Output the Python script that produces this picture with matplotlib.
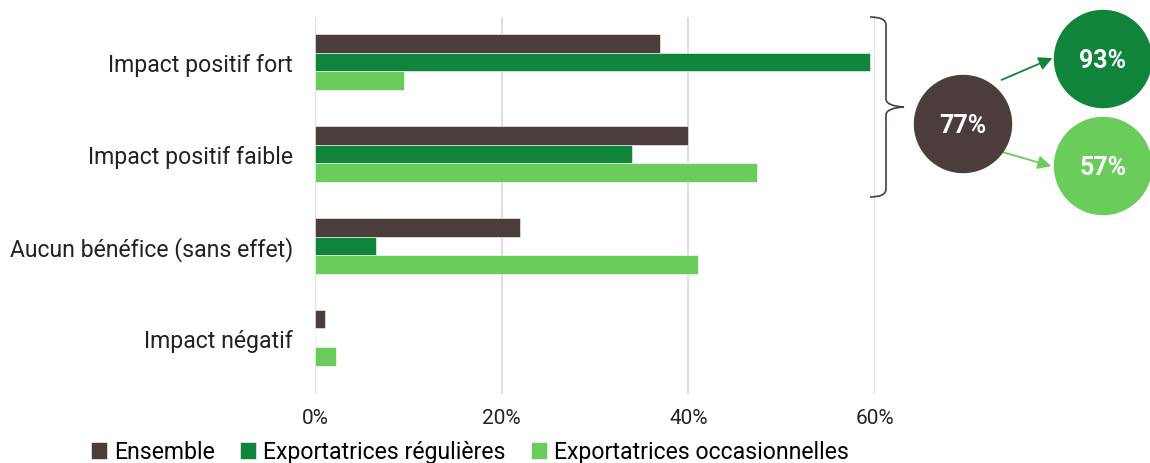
import matplotlib.pyplot as plt
import numpy as np
from matplotlib.patches import Circle, FancyArrowPatch, PathPatch
from matplotlib.path import Path

categories = ["Impact positif fort", "Impact positif faible",
              "Aucun bénéfice (sans effet)", "Impact négatif"]
series = ["Ensemble", "Exportatrices régulières", "Exportatrices occasionnelles"]
ensemble = [37.0, 40.0, 22.0, 1.1]
regulieres = [59.5, 34.0, 6.5, 0.0]
occasionnelles = [9.5, 47.4, 41.0, 2.2]
totals = [77, 93, 57]
xticks = [0, 20, 40, 60]

colors = ["#4B3D3C", "#10843B", "#6ACD5B"]

plt.rcParams["font.family"] = ["Roboto", "DejaVu Sans"]

fig = plt.figure(figsize=(11.5, 4.64), dpi=100)
W, H = 1150, 464
ax = fig.add_axes([315 / W, 1 - 395 / H, (875 - 315) / W, (395 - 18) / H])

y = np.arange(len(categories))
h = 0.205
for i, (vals, c, lab) in enumerate(zip([ensemble, regulieres, occasionnelles], colors, series)):
    ax.barh(y + (i - 1) * h, vals, height=h, color=c, label=lab,
            edgecolor="white", linewidth=0.4, zorder=3)

ax.set_xlim(0, 60)
ax.set_ylim(3.61, -0.49)
ax.set_xticks(xticks)
ax.set_xticklabels([f"{t}%" for t in xticks], fontsize=15, color="#222222")
ax.set_yticks(y)
ax.set_yticklabels(categories, fontsize=16.6, color="#222222")
ax.tick_params(length=0, pad=16, axis="y")
ax.tick_params(length=0, pad=10, axis="x")
ax.grid(axis="x", color="#D9D9D9", linewidth=1.2, zorder=0)
for s in ax.spines.values():
    s.set_visible(False)

# overlay in pixel coords for brace / circles
ov = fig.add_axes([0, 0, 1, 1], zorder=5)
ov.set_xlim(0, W)
ov.set_ylim(H, 0)
ov.axis("off")

verts = [(870, 18), (886, 18), (886, 26), (886, 26),
         (886, 100), (886, 100), (886, 107), (904, 108),
         (886, 109), (886, 116), (886, 116),
         (886, 190), (886, 190), (886, 198), (870, 198)]
codes = [Path.MOVETO, Path.CURVE3, Path.CURVE3, Path.LINETO,
         Path.LINETO, Path.LINETO, Path.CURVE3, Path.CURVE3,
         Path.CURVE3, Path.CURVE3, Path.LINETO,
         Path.LINETO, Path.LINETO, Path.CURVE3, Path.CURVE3]
ov.add_patch(PathPatch(Path(verts, codes), fill=False, edgecolor="#4B3D3C", linewidth=1.2))

circles = [((963, 125), colors[0]), ((1103, 60), colors[1]), ((1103, 167), colors[2])]
for (cx, cy), c in circles:
    ov.add_patch(Circle((cx, cy), 48.5, color=c, zorder=3))
for ((cx, cy), _), t in zip(circles, totals):
    ov.text(cx, cy + 1, f"{t}%", color="white", fontsize=18, fontweight="bold",
            ha="center", va="center", zorder=4)

ov.add_patch(FancyArrowPatch((999, 82), (1055, 58), arrowstyle="-|>,head_length=8,head_width=4",
                             color=colors[1], linewidth=1.3, zorder=2))
ov.add_patch(FancyArrowPatch((999, 152), (1054, 168), arrowstyle="-|>,head_length=8,head_width=4",
                             color=colors[2], linewidth=1.3, zorder=2))

handles, labels = ax.get_legend_handles_labels()
fig.legend(handles, labels, loc="center", bbox_to_anchor=(470 / W, 1 - 453 / H), ncol=3,
           frameon=False, handlelength=0.7, handleheight=0.7, handletextpad=0.3,
           columnspacing=1.1, prop={"size": 16.6})

fig.savefig("out.png", dpi=100)
